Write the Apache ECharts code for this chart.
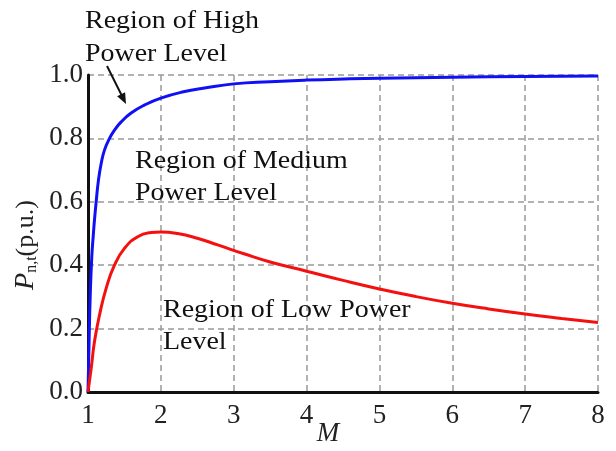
<!DOCTYPE html>
<html><head><meta charset="utf-8">
<script src="https://cdn.jsdelivr.net/npm/echarts@6/dist/echarts.min.js"></script>
<style>html,body{margin:0;padding:0;background:#fff}#c{width:616px;height:451px}</style>
</head><body><div id="c"></div>
<script>
// Tick values
const xTicks = [1, 2, 3, 4, 5, 6, 7, 8];
const yTicks = [0, 0.2, 0.4, 0.6, 0.8, 1.0];

// High power level boundary (blue)
const highM = [1.0, 1.015, 1.03, 1.052, 1.071, 1.089, 1.112, 1.144, 1.181, 1.226, 1.295, 1.363, 1.455, 1.592, 1.774, 2.0, 2.31, 2.6, 3.0, 3.5, 4.0, 4.6, 5.0, 6.0, 7.0, 8.0];
const highP = [0.0, 0.16, 0.30, 0.427, 0.49, 0.543, 0.60, 0.669, 0.721, 0.763, 0.80, 0.826, 0.852, 0.880, 0.905, 0.927, 0.947, 0.959, 0.972, 0.979, 0.984, 0.988, 0.990, 0.993, 0.995, 0.997];

// Low power level boundary (red)
const lowM = [1.0, 1.044, 1.089, 1.158, 1.249, 1.363, 1.5, 1.682, 1.866, 2.0, 2.23, 2.5, 2.78, 3.14, 3.5, 4.0, 4.5, 5.0, 5.5, 6.0, 6.5, 7.0, 7.5, 8.0];
const lowP = [0.0, 0.075, 0.159, 0.243, 0.327, 0.40, 0.453, 0.49, 0.503, 0.505, 0.50, 0.485, 0.464, 0.436, 0.41, 0.381, 0.352, 0.325, 0.301, 0.28, 0.262, 0.246, 0.232, 0.219];

const SERIF = '"Liberation Serif", "Times New Roman", serif';
const chart = echarts.init(document.getElementById('c'), null, {renderer: 'canvas'});

function txt(x, y, s) {
  return {type: 'text', x: x, y: y, scaleX: 1.075, z: 100,
    style: {text: s, font: '26px ' + SERIF, fill: '#111', textAlign: 'left', verticalAlign: 'middle', textVerticalAlign: 'middle'}};
}

chart.setOption({
  backgroundColor: '#fff',
  animation: false,
  grid: {left: 88, right: 18, top: 75, bottom: 59},
  xAxis: {
    type: 'value', min: xTicks[0], max: xTicks[xTicks.length - 1], interval: 1,
    axisLine: {show: true, lineStyle: {color: '#111', width: 3}},
    axisTick: {show: false},
    axisLabel: {color: '#222', fontFamily: SERIF, fontSize: 27, margin: 10},
    splitLine: {show: true, lineStyle: {color: '#999', width: 1.5, type: [6, 4]}}
  },
  yAxis: {
    type: 'value', min: yTicks[0], max: yTicks[yTicks.length - 1], interval: 0.2,
    axisLine: {show: true, onZero: false, lineStyle: {color: '#111', width: 3}},
    axisTick: {show: false},
    axisLabel: {color: '#222', fontFamily: SERIF, fontSize: 27, margin: 5, formatter: v => v.toFixed(1)},
    splitLine: {show: true, lineStyle: {color: '#999', width: 1.5, type: [6, 4]}}
  },
  series: [
    {type: 'line', data: highM.map((m, i) => [m, highP[i]]), showSymbol: false, smooth: 0.5,
     lineStyle: {color: '#1010f5', width: 3}, z: 3},
    {type: 'line', data: lowM.map((m, i) => [m, lowP[i]]), showSymbol: false, smooth: 0.5,
     lineStyle: {color: '#f51010', width: 3}, z: 3}
  ],
  graphic: [
    txt(85, 21.5, 'Region of High'),
    txt(85, 54, 'Power Level'),
    txt(135, 161, 'Region of Medium'),
    txt(135, 193.5, 'Power Level'),
    txt(163, 310, 'Region of Low Power'),
    txt(163, 342, 'Level'),
    {type: 'polyline', z: 100, shape: {points: [[107, 66], [122, 96]]}, style: {stroke: '#111', lineWidth: 2, fill: null}},
    {type: 'polygon', z: 100, shape: {points: [[126, 104], [117.1, 96.2], [125.1, 92.2]]}, style: {fill: '#111'}},
    {type: 'text', x: 26, y: 245, rotation: Math.PI / 2, z: 100,
     style: {text: '{p|P}{s|n,t}{u|(p.u.)}', textAlign: 'center', verticalAlign: 'middle', textVerticalAlign: 'middle', fill: '#222',
       rich: {p: {font: 'italic 28px ' + SERIF, fill: '#222'},
              s: {font: '16px ' + SERIF, fill: '#222', verticalAlign: 'bottom', padding: [12, 0, 0, 0]},
              u: {font: '26px ' + SERIF, fill: '#222'}}}},
    {type: 'text', x: 328, y: 434, z: 100,
     style: {text: 'M', font: 'italic 27px ' + SERIF, fill: '#222', textAlign: 'center', verticalAlign: 'middle', textVerticalAlign: 'middle'}}
  ]
});
</script>
</body></html>
